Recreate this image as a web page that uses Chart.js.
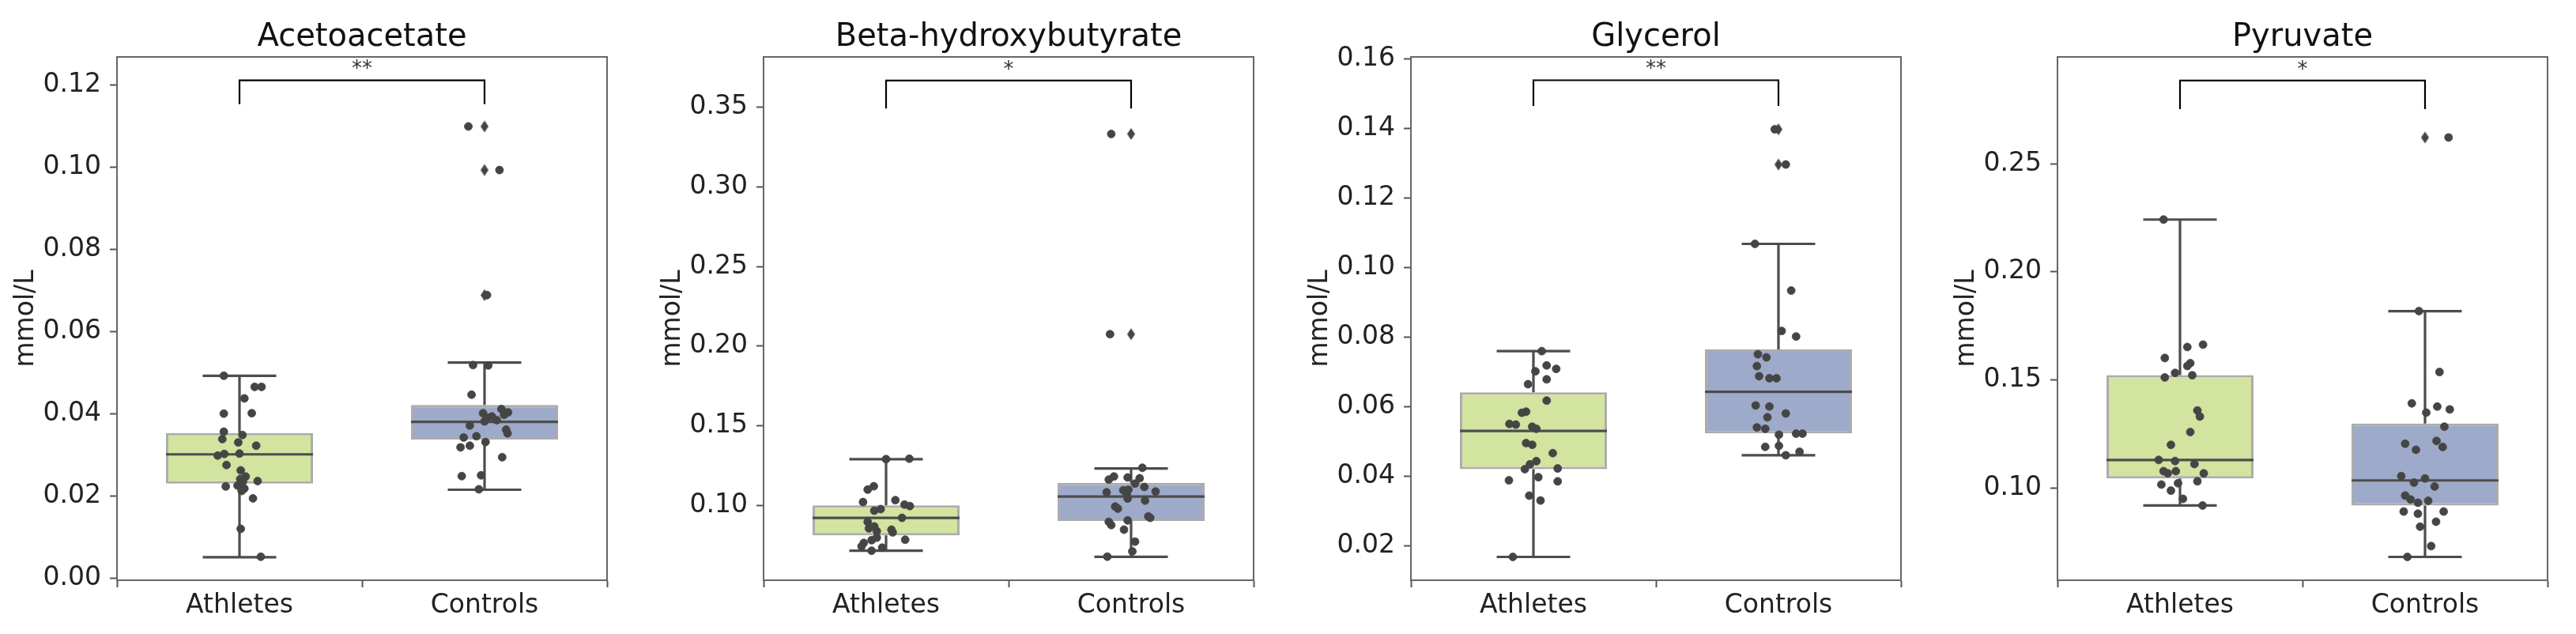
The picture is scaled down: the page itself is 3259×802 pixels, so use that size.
<!DOCTYPE html>
<html>
<head>
<meta charset="utf-8">
<script src="https://cdn.jsdelivr.net/npm/chart.js@4.4.1/dist/chart.umd.min.js"></script>
<style>
  html, body { margin: 0; padding: 0; background: #fff; }
  body { width: 3259px; height: 802px; position: relative; overflow: hidden; }
  canvas { position: absolute; top: 0; }
</style>
</head>
<body>
<canvas id="c0" width="848" height="802" style="left:0px"></canvas>
<canvas id="c1" width="848" height="802" style="left:818px"></canvas>
<canvas id="c2" width="848" height="802" style="left:1637px"></canvas>
<canvas id="c3" width="848" height="802" style="left:2455px"></canvas>
<script>
const titles = ['Acetoacetate', 'Beta-hydroxybutyrate', 'Glycerol', 'Pyruvate'];
const groups = ['Athletes', 'Controls'];
const yLabel = 'mmol/L';
const sigText = ['**', '*', '**', '*'];

const yTicks = [
  [0.00, 0.02, 0.04, 0.06, 0.08, 0.10, 0.12],
  [0.10, 0.15, 0.20, 0.25, 0.30, 0.35],
  [0.02, 0.04, 0.06, 0.08, 0.10, 0.12, 0.14, 0.16],
  [0.10, 0.15, 0.20, 0.25]
];
const yMin = [-0.0004, 0.0533, 0.0102, 0.0572];
const yMax = [0.1268, 0.3813, 0.1605, 0.2995];

// box stats per panel, [Athletes, Controls]
const boxQ1 = [[0.0231, 0.0338], [0.0814, 0.0904], [0.0421, 0.0524], [0.1043, 0.0918]];
const boxMedian = [[0.0302, 0.0381], [0.0924, 0.1058], [0.0531, 0.0643], [0.1129, 0.1034]];
const boxQ3 = [[0.0354, 0.0422], [0.1002, 0.1144], [0.0642, 0.0765], [0.1522, 0.1298]];
const whiskerLow = [[0.0052, 0.0216], [0.0718, 0.0680], [0.0169, 0.0461], [0.0918, 0.0680]];
const whiskerHigh = [[0.0493, 0.0525], [0.1292, 0.1233], [0.0760, 0.1068], [0.2242, 0.1818]];
const fliers = [
  [[], [0.1099, 0.0993, 0.0689]],
  [[], [0.333, 0.2075]],
  [[], [0.1397, 0.1296]],
  [[], [0.2622]]
];

// significance brackets
const bracketLow = [0.1153, 0.349, 0.1464, 0.2753];
const bracketHigh = [0.1211, 0.3665, 0.1538, 0.2886];

// strip points (values) and their horizontal jitter
const athletesValues = [
  [0.0493, 0.0466, 0.0466, 0.0438, 0.0401, 0.0402, 0.0357, 0.0339, 0.0349, 0.0331, 0.0323, 0.0299, 0.0303, 0.0304,
   0.0276, 0.0263, 0.0248, 0.0242, 0.0236, 0.0226, 0.0219, 0.0213, 0.0237, 0.0224, 0.0195, 0.0121, 0.0053],
  [0.1292, 0.1295, 0.1101, 0.1122, 0.1023, 0.1035, 0.1007, 0.0998, 0.0969, 0.0979, 0.0924, 0.0899, 0.0858, 0.0870,
   0.0850, 0.0833, 0.0841, 0.0787, 0.0767, 0.0784, 0.0800, 0.0737, 0.0718, 0.0745],
  [0.0760, 0.0702, 0.0719, 0.0709, 0.0679, 0.0665, 0.0618, 0.0583, 0.0586, 0.0551, 0.0549, 0.0543, 0.0537, 0.0496,
   0.0491, 0.0467, 0.0444, 0.0435, 0.0421, 0.0423, 0.0389, 0.0398, 0.0386, 0.0345, 0.0331, 0.0169],
  [0.2242, 0.1652, 0.1663, 0.1601, 0.1577, 0.1564, 0.1532, 0.1511, 0.1521, 0.1358, 0.1330, 0.1258, 0.1199, 0.1129,
   0.1124, 0.1110, 0.1077, 0.1067, 0.1077, 0.1067, 0.1015, 0.1021, 0.1030, 0.0987, 0.0949, 0.0918]
];
const athletesJitter = [
  [-0.064, 0.062, 0.09, 0.02, -0.064, 0.05, -0.064, -0.07, 0.012, -0.005, 0.068, -0.089, -0.062, 0.0,
   -0.053, 0.005, 0.025, 0.003, 0.014, -0.008, 0.02, 0.009, 0.074, -0.056, 0.055, 0.005, 0.087],
  [0.0, 0.095, -0.075, -0.05, -0.094, 0.038, 0.075, 0.097, -0.048, -0.022, 0.065, -0.075, -0.07, -0.048,
   0.022, 0.027, -0.038, 0.078, -0.091, -0.059, -0.038, -0.016, -0.059, -0.1],
  [0.034, 0.008, 0.054, 0.093, 0.054, -0.022, 0.054, -0.047, -0.03, -0.098, -0.072, -0.005, 0.012, -0.03,
   -0.005, 0.079, 0.012, -0.014, -0.035, 0.099, -0.1, 0.02, 0.099, -0.017, 0.029, -0.084],
  [-0.067, 0.03, 0.094, -0.062, 0.042, 0.03, -0.02, -0.062, 0.05, 0.071, 0.081, 0.042, -0.037, -0.087,
   -0.02, 0.059, -0.067, -0.05, -0.017, 0.097, -0.076, -0.008, 0.071, -0.037, 0.012, 0.092]
];
const controlsValues = [
  [0.1099, 0.0993, 0.0689, 0.0519, 0.0518, 0.0447, 0.0402, 0.0412, 0.0404, 0.0391, 0.0394, 0.0385, 0.0382,
   0.0398, 0.0372, 0.0362, 0.0353, 0.0343, 0.0346, 0.0332, 0.0319, 0.0323, 0.0295, 0.0249, 0.0251, 0.0217],
  [0.333, 0.2075, 0.1238, 0.1164, 0.1183, 0.1177, 0.1172, 0.1139, 0.1118, 0.1084, 0.1097, 0.1100, 0.1072, 0.1045,
   0.1089, 0.1032, 0.0995, 0.0982, 0.0933, 0.0924, 0.0899, 0.0879, 0.0908, 0.0850, 0.0775, 0.0714, 0.0681],
  [0.1397, 0.1296, 0.1068, 0.0934, 0.0818, 0.0802, 0.0751, 0.0742, 0.0717, 0.0688, 0.0682, 0.0682, 0.0604,
   0.0601, 0.0581, 0.0570, 0.0541, 0.0537, 0.0520, 0.0523, 0.0523, 0.0485, 0.0488, 0.0461, 0.0471],
  [0.2622, 0.1818, 0.1536, 0.1391, 0.1348, 0.1376, 0.1363, 0.1283, 0.1204, 0.1176, 0.1217, 0.1189, 0.1054, 0.1024,
   0.1043, 0.1006, 0.0964, 0.0946, 0.0931, 0.0940, 0.0890, 0.0880, 0.0890, 0.0820, 0.0843, 0.0730, 0.0680]
];
const controlsJitter = [
  [-0.066, 0.061, 0.01, -0.047, 0.015, -0.053, -0.006, 0.069, 0.096, 0.01, 0.03, 0.05, 0.0,
   0.08, -0.06, 0.088, 0.094, -0.085, -0.033, 0.004, -0.098, -0.06, 0.072, -0.093, -0.014, -0.023],
  [-0.081, -0.086, 0.046, -0.091, -0.07, -0.014, 0.035, 0.016, 0.054, -0.1, -0.032, -0.011, -0.018, -0.014,
   0.1, 0.057, -0.065, -0.054, 0.07, 0.078, -0.091, -0.081, -0.014, -0.029, 0.016, 0.005, -0.097],
  [-0.015, 0.03, -0.096, 0.052, 0.013, 0.072, -0.084, -0.049, -0.088, -0.079, -0.037, -0.008, -0.093,
   -0.037, 0.03, -0.045, -0.088, -0.054, 0.002, 0.072, 0.098, -0.054, 0.002, 0.03, 0.086],
  [0.096, -0.025, 0.059, -0.054, 0.005, 0.05, 0.101, 0.079, -0.081, -0.037, 0.047, 0.072, -0.097, -0.045,
   0.0, 0.039, -0.081, -0.059, -0.029, 0.013, -0.087, -0.029, 0.076, -0.02, 0.045, 0.025, -0.072]
];

Chart.defaults.font.family = '"DejaVu Sans", sans-serif';
Chart.defaults.color = '#222';

const boxFill = ['#d3e3a0', '#9eaac9'];
const boxEdge = 'rgba(90,90,90,0.5)';
const lineGray = '#4d4d4d';
const dotGray = '#454545';
const boxHalf = 0.3, capHalf = 0.15;

// thin diamond marker for the boxplot fliers
const diamond = document.createElement('canvas');
diamond.width = 13; diamond.height = 17;
const dctx = diamond.getContext('2d');
dctx.fillStyle = dotGray;
dctx.beginPath();
dctx.moveTo(6.5, 1); dctx.lineTo(11.5, 8.5); dctx.lineTo(6.5, 16); dctx.lineTo(1.5, 8.5);
dctx.closePath();
dctx.fill();

// full frame round the plot + the significance stars
const framePlugin = {
  id: 'frame',
  afterDatasetsDraw(chart, args, opts) {
    const {ctx, chartArea: a, scales} = chart;
    ctx.save();
    ctx.strokeStyle = '#666';
    ctx.lineWidth = 2;
    ctx.strokeRect(a.left, a.top, a.right - a.left, a.bottom - a.top);
    ctx.fillStyle = '#333';
    ctx.font = '26px "DejaVu Sans"';
    ctx.textAlign = 'center';
    ctx.textBaseline = 'bottom';
    ctx.fillText(opts.text, scales.x.getPixelForValue(0.5), scales.y.getPixelForValue(opts.y));
    ctx.restore();
  }
};

titles.forEach((title, i) => {
  const boxes = groups.map((g, k) => ({x: k, y: [boxQ1[i][k], boxQ3[i][k]]}));

  const segs = [];
  groups.forEach((g, k) => {
    const gap = {x: k, y: null};
    segs.push({x: k, y: whiskerLow[i][k]}, {x: k, y: boxQ1[i][k]}, gap);
    segs.push({x: k, y: boxQ3[i][k]}, {x: k, y: whiskerHigh[i][k]}, gap);
    segs.push({x: k - capHalf, y: whiskerLow[i][k]}, {x: k + capHalf, y: whiskerLow[i][k]}, gap);
    segs.push({x: k - capHalf, y: whiskerHigh[i][k]}, {x: k + capHalf, y: whiskerHigh[i][k]}, gap);
    segs.push({x: k - boxHalf, y: boxMedian[i][k]}, {x: k + boxHalf, y: boxMedian[i][k]}, gap);
  });

  const flierPts = [];
  groups.forEach((g, k) => fliers[i][k].forEach(v => flierPts.push({x: k, y: v})));

  const dots = athletesValues[i].map((v, j) => ({x: athletesJitter[i][j], y: v}))
    .concat(controlsValues[i].map((v, j) => ({x: 1 + controlsJitter[i][j], y: v})));

  const bracket = [
    {x: 0, y: bracketLow[i]}, {x: 0, y: bracketHigh[i]},
    {x: 1, y: bracketHigh[i]}, {x: 1, y: bracketLow[i]}
  ];

  new Chart(document.getElementById('c' + i), {
    type: 'scatter',
    data: {
      datasets: [
        {
          type: 'bar', data: boxes, backgroundColor: boxFill, borderColor: boxEdge,
          borderWidth: 3, borderSkipped: false, barPercentage: 0.6, categoryPercentage: 1, order: 5
        },
        { type: 'line', data: segs, borderColor: lineGray, borderWidth: 3.2, pointRadius: 0, spanGaps: false, order: 4 },
        { type: 'scatter', data: flierPts, pointStyle: diamond, pointRadius: 6, order: 3 },
        {
          type: 'scatter', data: dots, pointRadius: 5, backgroundColor: dotGray,
          borderColor: dotGray, borderWidth: 0.8, order: 2
        },
        { type: 'line', data: bracket, borderColor: '#000', borderWidth: 2.2, pointRadius: 0, order: 1 }
      ]
    },
    options: {
      responsive: false,
      animation: false,
      layout: { padding: { left: 0, right: 80, top: 0, bottom: 0 } },
      plugins: {
        legend: { display: false },
        tooltip: { enabled: false },
        title: {
          display: true, text: title, fullSize: false, color: '#111',
          font: { size: 40, weight: 'normal' }, padding: { top: 24, bottom: 0 }
        },
        frame: { text: sigText[i], y: bracketHigh[i] }
      },
      scales: {
        x: {
          type: 'linear', min: -0.5, max: 1.5, offset: false,
          afterBuildTicks: s => { s.ticks = groups.map((g, k) => ({value: k})); },
          afterFit: s => { s.height = 68; },
          ticks: { callback: v => groups[v], font: { size: 33 }, padding: 4, autoSkip: false, maxRotation: 0 },
          grid: { drawOnChartArea: false, drawTicks: true, tickLength: 9, tickWidth: 2, tickColor: '#555' },
          border: { color: '#666', width: 2 }
        },
        y: {
          min: yMin[i], max: yMax[i],
          afterBuildTicks: s => { s.ticks = yTicks[i].map(v => ({value: v})); },
          afterFit: s => { s.width = 148; },
          ticks: { callback: v => v.toFixed(2), font: { size: 33 }, padding: 11, autoSkip: false },
          grid: { drawOnChartArea: false, drawTicks: true, tickLength: 9, tickWidth: 2, tickColor: '#555' },
          border: { color: '#666', width: 2 },
          title: { display: true, text: yLabel, font: { size: 33 }, padding: { top: 14, bottom: 0 }, color: '#222' }
        }
      }
    },
    plugins: [framePlugin]
  });
});
</script>
</body>
</html>
